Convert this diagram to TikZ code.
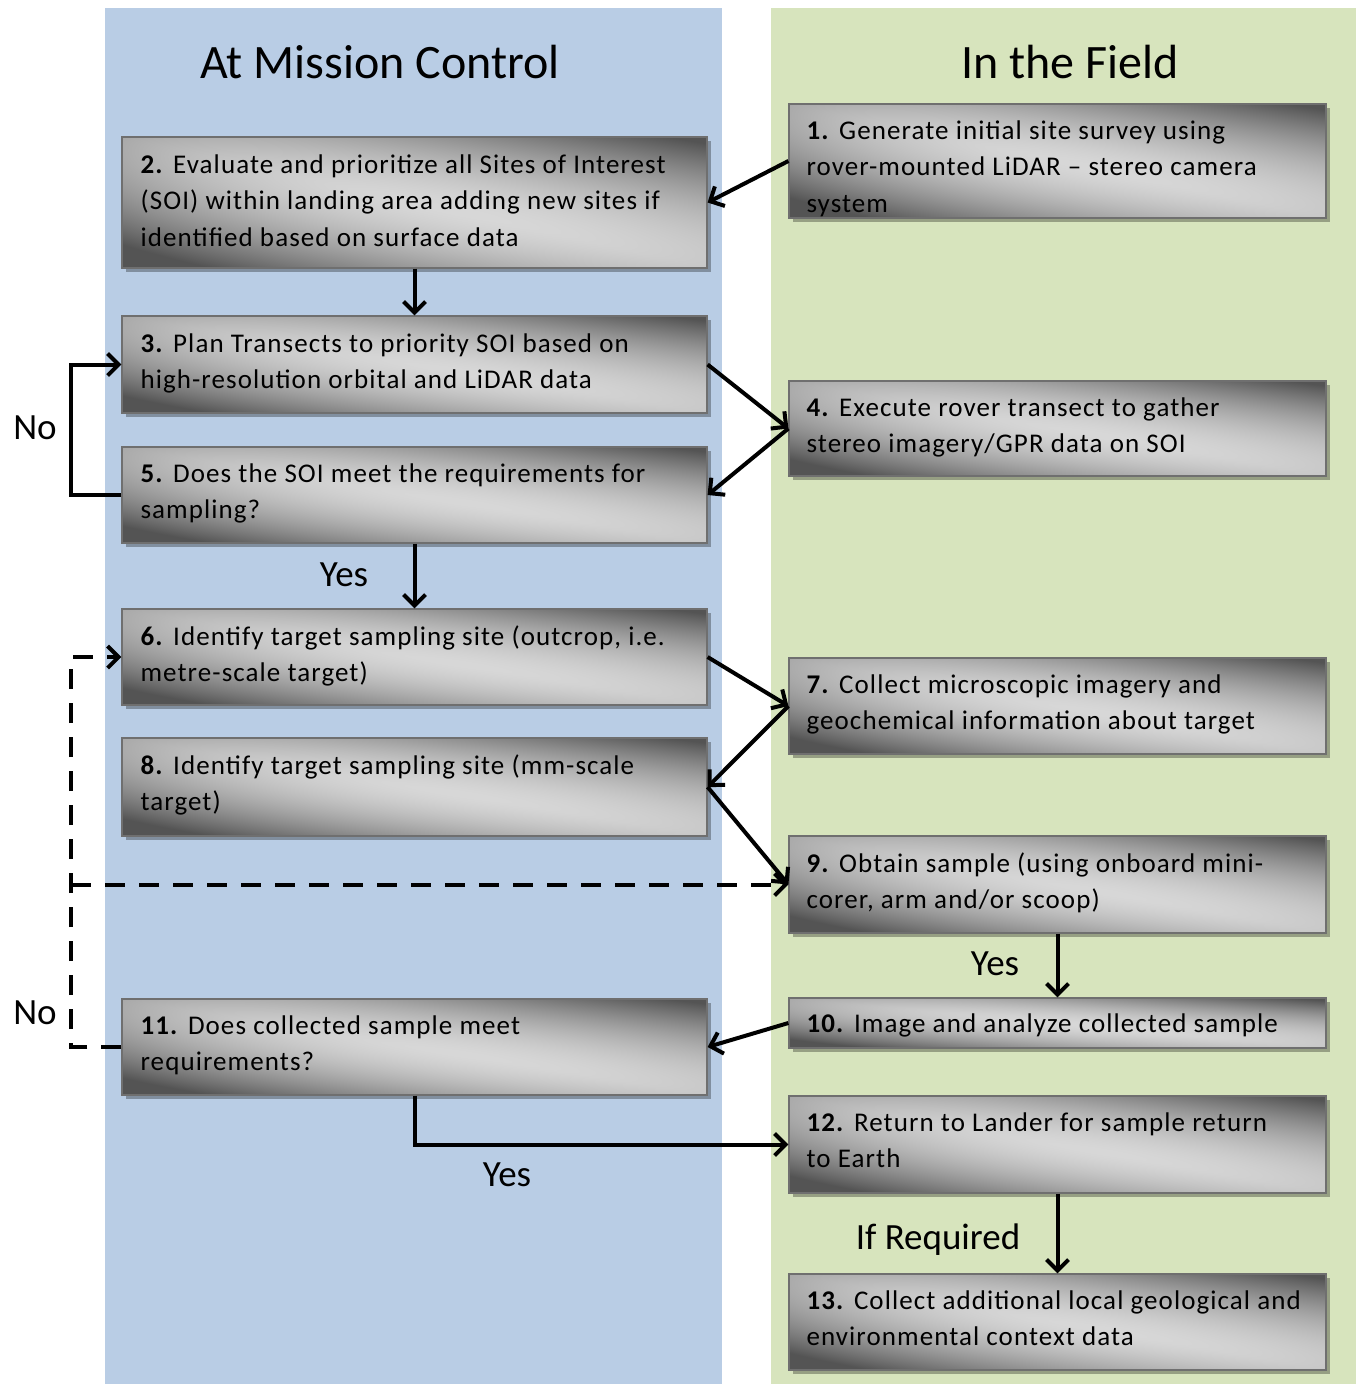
\documentclass[tikz,border=0pt]{standalone}
\usepackage{fontspec}
\setmainfont{Carlito}
\usetikzlibrary{arrows.meta,shadows,calc}
\definecolor{panelblue}{HTML}{B9CDE5}
\definecolor{panelgreen}{HTML}{D7E4BD}
\definecolor{gborder}{HTML}{6F6F6F}
\pgfdeclarefunctionalshading{boxshade}{\pgfpointorigin}{\pgfpoint{100bp}{100bp}}{}{
  25 sub 50 div exch 25 sub 50 div
  2 copy add 1 sub abs 1.5 exp -0.5 mul 0.85 add
  exch 1 exch sub dup mul dup mul -0.12 mul add
  exch 2 mul 1 sub dup mul -0.07 mul add
  dup 0.33 lt {pop 0.33} if
  dup dup
}
\tikzset{
  stepbox/.style={rectangle, draw=gborder, line width=1.2pt, shade, shading=boxshade,
    drop shadow={shadow xshift=4pt, shadow yshift=-4pt, fill=black, opacity=0.3}, inner sep=0pt},
  lbox/.style={stepbox, minimum width=585pt},
  rbox/.style={stepbox, minimum width=537pt},
  txt/.style={anchor=north west, inner sep=0pt, align=left, font=\fontsize{27}{36.4}\selectfont\addfontfeature{LetterSpace=4}},
  arr/.style={line width=4pt, -{Straight Barb[length=11pt,width=22pt]}},
  lbl/.style={font=\fontsize{37}{44}\selectfont},
  ttl/.style={font=\fontsize{48}{56}\selectfont}
}
\begin{document}
\begin{tikzpicture}[x=1pt,y=-1pt]
\useasboundingbox (0,0) rectangle (1356,1384);
\fill[white] (0,0) rectangle (1356,1384);
\fill[panelblue] (105,8) rectangle (722,1384);
\fill[panelgreen] (771,8) rectangle (1356,1384);
\node[ttl] (tl) at (380,62) {At Mission Control};
\node[ttl] (tr) at (1070,62) {In the Field};
% left boxes
\node[lbox, minimum height=131pt] (b2) at (414.5,202.5) {};
\node[lbox, minimum height=97pt] (b3) at (414.5,364.5) {};
\node[lbox, minimum height=96pt] (b5) at (414.5,495) {};
\node[lbox, minimum height=96pt] (b6) at (414.5,657) {};
\node[lbox, minimum height=98pt] (b8) at (414.5,787) {};
\node[lbox, minimum height=96pt] (b11) at (414.5,1047) {};
% right boxes
\node[rbox, minimum height=114pt] (b1) at (1057.5,161) {};
\node[rbox, minimum height=95pt] (b4) at (1057.5,428.5) {};
\node[rbox, minimum height=96pt] (b7) at (1057.5,706) {};
\node[rbox, minimum height=97pt] (b9) at (1057.5,884.5) {};
\node[rbox, minimum height=50pt] (b10) at (1057.5,1023) {};
\node[rbox, minimum height=97pt] (b12) at (1057.5,1144.5) {};
\node[rbox, minimum height=96pt] (b13) at (1057.5,1322) {};
% texts
\node[txt] (t1) at ($(b1.north west)+(18,17)$) {\textbf{1.} Generate initial site survey using\\rover-mounted LiDAR -- stereo camera\\system};
\node[txt] (t2) at ($(b2.north west)+(19,18)$) {\textbf{2.} Evaluate and prioritize all Sites of Interest\\(SOI) within landing area adding new sites if\\identified based on surface data};
\node[txt] (t3) at ($(b3.north west)+(19,18)$) {\textbf{3.} Plan Transects to priority SOI based on\\high-resolution orbital and LiDAR data};
\node[txt] (t4) at ($(b4.north west)+(18,17)$) {\textbf{4.} Execute rover transect to gather\\stereo imagery/GPR data on SOI};
\node[txt] (t5) at ($(b5.north west)+(19,17)$) {\textbf{5.} Does the SOI meet the requirements for\\sampling?};
\node[txt] (t6) at ($(b6.north west)+(19,17)$) {\textbf{6.} Identify target sampling site (outcrop, i.e.\\metre-scale target)};
\node[txt] (t7) at ($(b7.north west)+(18,17)$) {\textbf{7.} Collect microscopic imagery and\\geochemical information about target};
\node[txt] (t8) at ($(b8.north west)+(19,17)$) {\textbf{8.} Identify target sampling site (mm-scale\\target)};
\node[txt] (t9) at ($(b9.north west)+(18,17)$) {\textbf{9.} Obtain sample (using onboard mini-\\corer, arm and/or scoop)};
\node[txt] (t10) at ($(b10.north west)+(18,16)$) {\textbf{10.} Image and analyze collected sample};
\node[txt] (t11) at ($(b11.north west)+(19,17)$) {\textbf{11.} Does collected sample meet\\requirements?};
\node[txt] (t12) at ($(b12.north west)+(18,17)$) {\textbf{12.} Return to Lander for sample return\\to Earth};
\node[txt] (t13) at ($(b13.north west)+(18,17)$) {\textbf{13.} Collect additional local geological and\\environmental context data};
% arrows
\draw[arr] (b1.west) -- (b2.east);
\draw[arr] (b2.south) -- (b3.north);
\draw[arr] (b3.east) -- (b4.west);
\draw[arr] (b4.west) -- (b5.east);
\coordinate (lx) at ($(b5.west)+(-50,0)$);
\draw[arr] (b5.west) -- (lx) |- (b3.west);
\draw[arr] (b5.south) -- (b6.north);
\draw[arr] (b6.east) -- (b7.west);
\draw[arr] (b7.west) -- (b8.east);
\draw[arr] (b8.east) -- (b9.west);
\draw[arr, dash pattern=on 20pt off 14pt] (b11.west) -- (lx |- b11.west) |- (b6.west);
\draw[arr, dash pattern=on 20pt off 14pt] (lx |- b9.west) -- (b9.west);
\draw[arr] (b9.south) -- (b10.north);
\draw[arr] (b10.west) -- (b11.east);
\draw[arr] (b11.south) |- (b12.west);
\draw[arr] (b12.south) -- (b13.north);
% labels
\node[lbl] (no1) at (35,428) {No};
\node[lbl] (yes1) at (344,575) {Yes};
\node[lbl] (no2) at (35,1013) {No};
\node[lbl] (yes2) at (995,964) {Yes};
\node[lbl] (yes3) at (507,1175) {Yes};
\node[lbl] (ifr) at (938,1240) {If Required};
\end{tikzpicture}
\end{document}
